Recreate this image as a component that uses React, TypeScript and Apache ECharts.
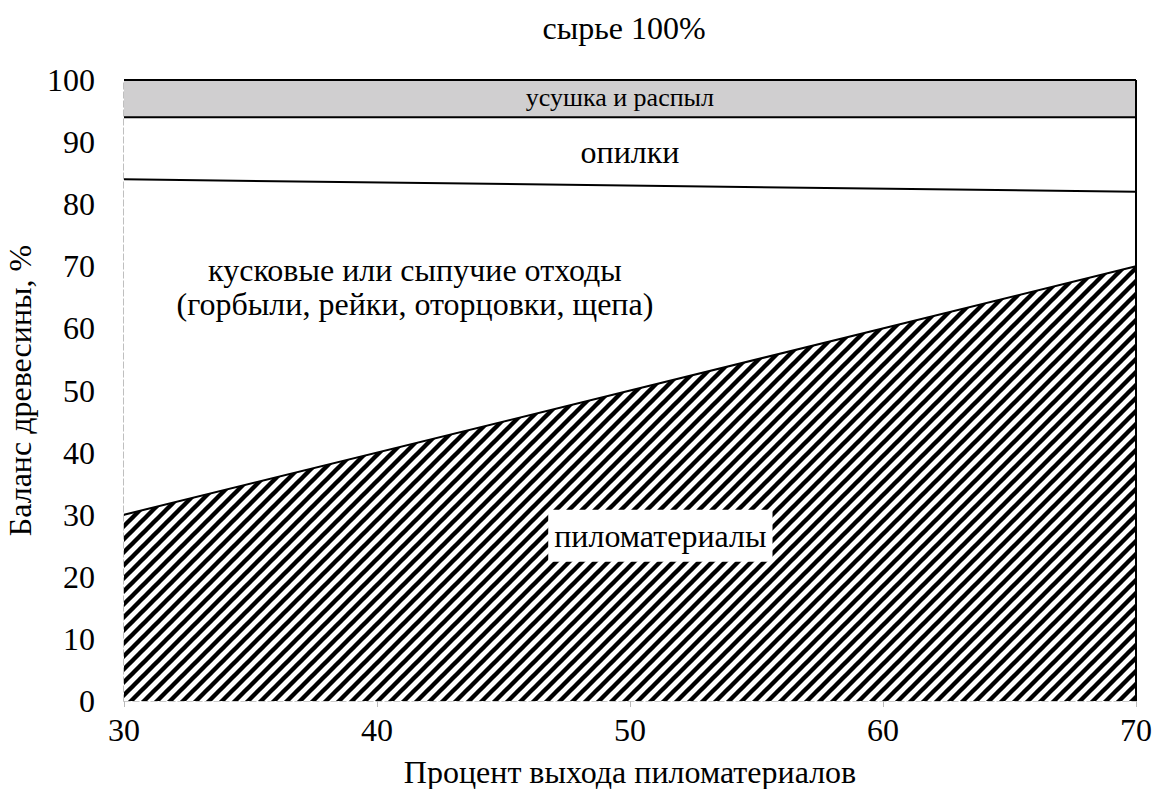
import React, { useEffect, useRef } from "react";
import * as echarts from "echarts";

const xValues = [30, 70];
const totalTop = [100, 100];
const sawdustTop = [94, 94];
const wasteTop = [84, 82];
const lumberTop = [30, 70];
const xTicks = [30, 40, 50, 60, 70];

const FONT = '"Times New Roman", "Liberation Serif", "DejaVu Serif", serif';
const FS = 32;

function pairs(ys: number[]) {
  return xValues.map((x, i) => [x, ys[i]]);
}

const P = 13;
function makeHatch(): HTMLCanvasElement {
  const c = document.createElement("canvas");
  c.width = P;
  c.height = P;
  const ctx = c.getContext("2d")!;
  ctx.fillStyle = "#fff";
  ctx.fillRect(0, 0, P, P);
  ctx.strokeStyle = "#000";
  ctx.lineWidth = 4.4;
  for (const k of [-1, 0, 1]) {
    ctx.beginPath();
    ctx.moveTo(k * P - 2, P + 2);
    ctx.lineTo(k * P + P + 2, -2);
    ctx.stroke();
  }
  return c;
}

export default function App() {
  const ref = useRef<HTMLDivElement>(null);
  useEffect(() => {
    if (!ref.current) return;
    const chart = echarts.init(ref.current, null, { renderer: "svg" });
    const hatch = makeHatch();
    const edge = { color: "#000", width: 2 };
    const label = (text: string, extra: any = {}) => ({
      show: true,
      position: "inside",
      formatter: text,
      fontFamily: FONT,
      fontSize: FS,
      color: "#000",
      ...extra,
    });
    const mp = (x: number, y: number, text: string, extra: any = {}) => ({
      coord: [x, y],
      symbol: "rect",
      symbolSize: 1,
      itemStyle: { color: "rgba(0,0,0,0)" },
      label: label(text, extra),
    });
    chart.setOption({
      animation: false,
      textStyle: { fontFamily: FONT },
      grid: {
        left: 124,
        right: 22,
        top: 80,
        bottom: 88,
        containLabel: false,
        outerBoundsMode: "none",
      },
      graphic: [
        {
          type: "text",
          x: 624,
          y: 28,
          style: {
            text: "сырье 100%",
            fontFamily: FONT,
            fontSize: FS,
            fill: "#000",
            textAlign: "center",
            textVerticalAlign: "middle",
          },
        },
      ],
      xAxis: {
        type: "value",
        min: 30,
        max: 70,
        interval: 10,
        name: "Процент выхода пиломатериалов",
        nameLocation: "middle",
        nameGap: 55,
        nameTextStyle: { fontFamily: FONT, fontSize: FS, color: "#000" },
        axisLine: { show: true, lineStyle: { color: "#bbb", type: "dashed", width: 1.5 } },
        axisTick: { show: true, length: 6, lineStyle: { color: "#bbb" } },
        axisLabel: {
          fontFamily: FONT,
          fontSize: FS,
          color: "#000",
          margin: 13,
          customValues: xTicks,
        },
        splitLine: { show: false },
      },
      yAxis: {
        type: "value",
        min: 0,
        max: 100,
        interval: 10,
        name: "Баланс древесины, %",
        nameLocation: "middle",
        nameGap: 80,
        nameTextStyle: { fontFamily: FONT, fontSize: FS, color: "#000" },
        axisLine: { show: true, lineStyle: { color: "#aaa", type: "dashed", width: 1.5 } },
        axisTick: { show: false },
        axisLabel: { fontFamily: FONT, fontSize: FS, color: "#000", margin: 29 },
        splitLine: { show: false },
      },
      series: [
        {
          name: "усушка и распыл",
          type: "line",
          data: pairs(totalTop),
          symbol: "none",
          lineStyle: edge,
          areaStyle: { color: "#d0cfd0", opacity: 1 },
          markLine: {
            silent: true,
            symbol: "none",
            label: { show: false },
            lineStyle: { color: "#000", width: 2, type: "solid" },
            data: [{ xAxis: 70 }],
          },
        },
        {
          name: "опилки",
          type: "line",
          data: pairs(sawdustTop),
          symbol: "none",
          lineStyle: edge,
          areaStyle: { color: "#fff", opacity: 1 },
        },
        {
          name: "отходы",
          type: "line",
          data: pairs(wasteTop),
          symbol: "none",
          lineStyle: edge,
          areaStyle: { color: "#fff", opacity: 1 },
        },
        {
          name: "пиломатериалы",
          type: "line",
          data: pairs(lumberTop),
          symbol: "none",
          lineStyle: edge,
          areaStyle: {
            color: { image: hatch, repeat: "repeat", imageWidth: P, imageHeight: P },
            opacity: 1,
          },
          markPoint: {
            silent: true,
            data: [
              mp(51.2, 26.6, "пиломатериалы", {
                backgroundColor: "#fff",
                padding: [10, 6, 10, 6],
              }),
              mp(49.6, 97.2, "усушка и распыл", {
                fontSize: 26,
                backgroundColor: "#d0cfd0",
                padding: [2, 56, 3, 56],
              }),
              mp(50, 88.4, "опилки"),
              mp(41.5, 66.7, "кусковые или сыпучие отходы\n(горбыли, рейки, оторцовки, щепа)", {
                lineHeight: 34,
                align: "center",
              }),
            ],
          },
        },
      ],
    });
    return () => chart.dispose();
  }, []);
  return (
    <div
      ref={ref}
      style={{ position: "fixed", left: 0, top: 0, width: 1158, height: 789, background: "#fff" }}
    />
  );
}
